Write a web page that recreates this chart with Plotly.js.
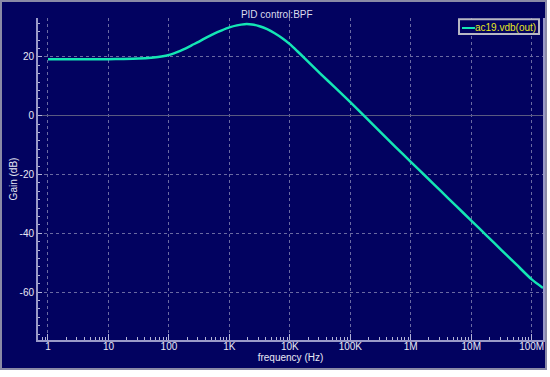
<!DOCTYPE html>
<html>
<head>
<meta charset="utf-8">
<script src="https://cdn.plot.ly/plotly-3.0.1.min.js"></script>
<style>
  html, body { margin: 0; padding: 0; background: #ffffff; }
  #frame { position: absolute; left: 0; top: 0; width: 547px; height: 370px;
           box-sizing: border-box; border: 2px solid #8a8aa6; background: #020260; }
  #chart { width: 543px; height: 366px; }
</style>
</head>
<body>
<div id="frame"><div id="chart"></div></div>
<script>
// Frequency (Hz) and gain (dB)
const freqHz = [1, 3.16, 10, 17.8, 31.6, 56.2, 75, 100, 133, 178, 237, 316, 422, 562, 750,
                1000, 1334, 1780, 2371, 3160, 4217, 5620, 7499, 10000, 13340, 17800,
                31600, 56200, 100000, 178000, 316000, 562000,
                1000000, 1780000, 3160000, 5620000, 10000000, 17800000, 31600000,
                56200000, 100000000, 154000000];
const gainDb = [19.2, 19.2, 19.2, 19.25, 19.4, 19.8, 20.1, 20.6, 21.5, 22.6, 23.9, 25.2, 26.6, 27.9, 29.0,
                30.0, 30.7, 31.1, 31.0, 30.4, 29.4, 28.0, 26.3, 24.3, 21.9, 19.4,
                14.4, 9.5, 4.6, -0.5, -5.6, -10.7,
                -15.7, -20.7, -25.7, -30.7, -35.7, -40.7, -45.7,
                -50.7, -55.7, -58.6];
const seriesName = 'ac19.vdb(out)';
const xTickVals = [1, 10, 100, 1000, 10000, 100000, 1000000, 10000000, 100000000];
const xTickText = ['1', '10', '100', '1K', '10K', '100K', '1M', '10M', '100M'];
const yTickVals = [-60, -40, -20, 0, 20];
const yTickText = ['-60', '-40', '-20', '0', '20'];

const navy = '#020260';
const axisCol = '#9a9ac8';
const gridCol = '#6a6aa2';
const labelCol = '#e8e8f4';
const font = 'Liberation Sans, Arial, sans-serif';

const trace = {
  type: 'scatter', mode: 'lines', name: seriesName,
  x: freqHz, y: gainDb,
  line: { color: '#14e6b4', width: 2.5, shape: 'spline', smoothing: 0.6 },
  hoverinfo: 'x+y'
};

const layout = {
  width: 543, height: 366,
  margin: { l: 36, r: 2, t: 16, b: 28 },
  paper_bgcolor: navy, plot_bgcolor: navy,
  font: { family: font, size: 10, color: labelCol },
  showlegend: false,
  title: { text: 'PID control:BPF', font: { family: font, size: 10, color: '#dcdcec' },
           xref: 'container', x: 0.506, xanchor: 'center',
           yref: 'container', y: 0.967, yanchor: 'middle' },
  xaxis: {
    type: 'log', range: [-0.165, 8.187],
    tickmode: 'array', tickvals: xTickVals, ticktext: xTickText,
    ticks: 'inside', ticklen: 6, tickwidth: 1, tickcolor: '#b4b4d8',
    ticklabelstandoff: -4,
    tickfont: { family: font, size: 10, color: labelCol },
    showgrid: true, gridcolor: gridCol, griddash: 'dot', gridwidth: 1,
    showline: true, linecolor: axisCol, linewidth: 2,
    zeroline: false,
    minor: { ticks: 'inside', ticklen: 3, tickcolor: '#b4b4d8', dtick: 'D1', showgrid: false },
    title: { text: 'frequency (Hz)', font: { family: font, size: 10, color: labelCol }, standoff: 2 }
  },
  yaxis: {
    range: [-76.3, 33.2],
    tickmode: 'array', tickvals: yTickVals, ticktext: yTickText,
    ticks: 'inside', ticklen: 4, tickwidth: 1, tickcolor: '#b4b4d8',
    tickfont: { family: font, size: 10, color: labelCol },
    showgrid: true, gridcolor: gridCol, griddash: 'dot', gridwidth: 1,
    showline: true, linecolor: axisCol, linewidth: 2, mirror: true,
    zeroline: true, zerolinecolor: '#5a5a80', zerolinewidth: 1.5,
    minor: { ticks: 'inside', ticklen: 2, tickcolor: '#b4b4d8', dtick: 20 / 7, showgrid: false },
    title: { text: 'Gain (dB)', font: { family: font, size: 10, color: labelCol }, standoff: 0 }
  },
  shapes: [
    { type: 'rect', xref: 'paper', yref: 'paper', layer: 'above',
      x0: 0.8337, x1: 0.9921, y0: 0.9503, y1: 0.996,
      fillcolor: navy, line: { color: '#b8b8c4', width: 2 } },
    { type: 'line', xref: 'paper', yref: 'paper', layer: 'above',
      x0: 0.8396, x1: 0.8653, y0: 0.969, y1: 0.969,
      line: { color: '#14e6b4', width: 2 } }
  ],
  annotations: [
    { xref: 'paper', yref: 'paper', x: 0.990, y: 0.969, xanchor: 'right', yanchor: 'middle',
      text: seriesName, showarrow: false,
      font: { family: font, size: 10, color: '#e6e61e' } }
  ]
};

Plotly.newPlot('chart', [trace], layout, { displayModeBar: false, staticPlot: true });
</script>
</body>
</html>
